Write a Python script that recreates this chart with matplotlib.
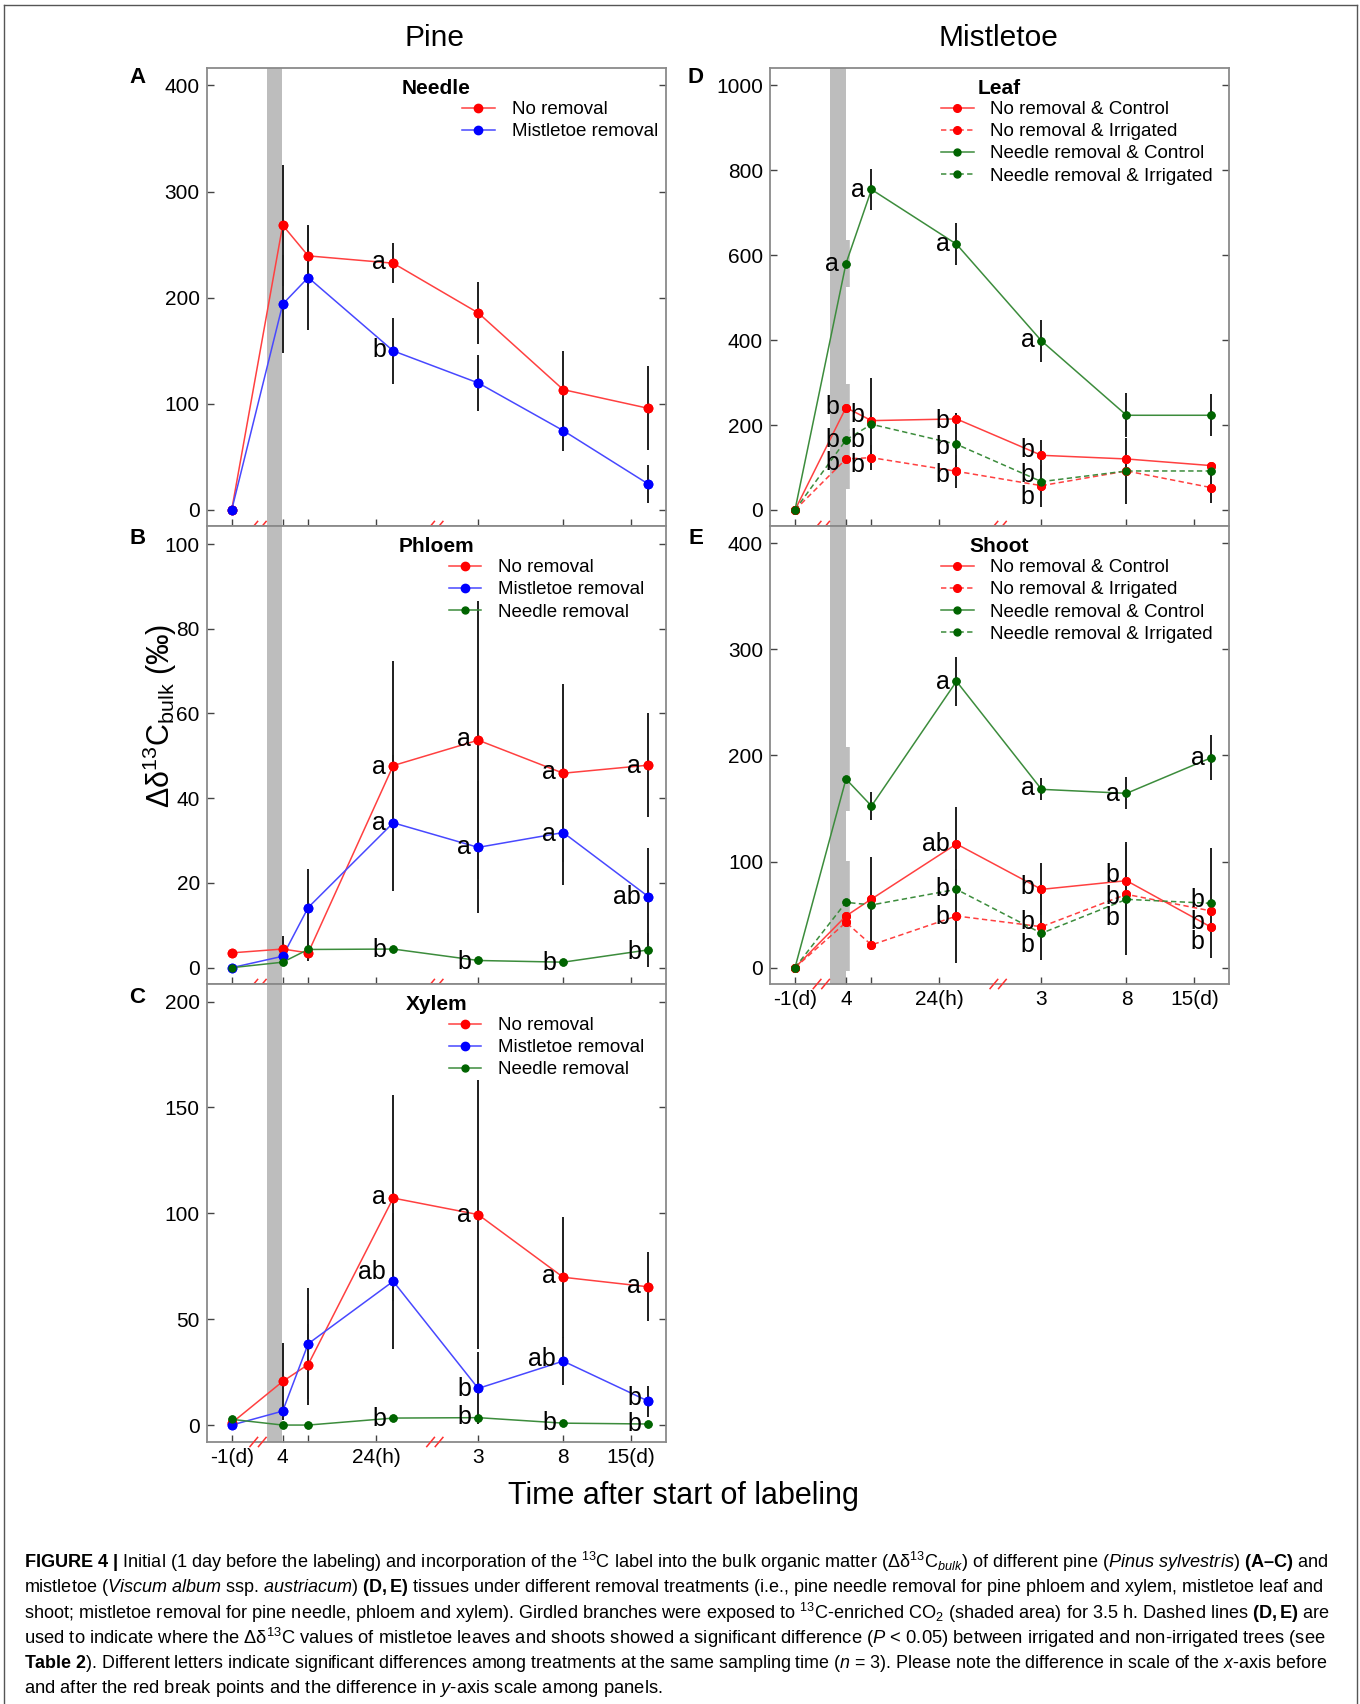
"""Pine / mistletoe 13C labelling figure (panels A-E)."""

import matplotlib

matplotlib.use("Agg")
import matplotlib.pyplot as plt
from matplotlib.lines import Line2D

plt.rcParams["font.family"] = ["Liberation Sans", "DejaVu Sans"]
plt.rcParams["mathtext.fontset"] = "custom"
plt.rcParams["mathtext.rm"] = "Liberation Sans"
plt.rcParams["mathtext.it"] = "Liberation Sans:italic"
plt.rcParams["mathtext.bf"] = "Liberation Sans:bold"
plt.rcParams["mathtext.default"] = "regular"
plt.rcParams["legend.numpoints"] = 1

# ---- data -------------------------------------------------------------
# sampling times on the broken time axis (-1 d, 4 h, ~10 h, ~28 h, 3 d, 8 d, ~17 d)
sample_x = [0.0, 0.6, 0.9, 1.9, 2.9, 3.9, 4.9]
tick_x = [0.0, 0.6, 0.9, 1.7, 2.9, 3.9, 4.7]
tick_labels = ["-1(d)", "4", "", "24(h)", "3", "8", "15(d)"]
break_x = [0.31, 2.39]
labelling_span = (0.41, 0.595)

# A  pine needle
needle_no = [0, 268.3, 239.4, 232.5, 185.7, 113.4, 95.8]
needle_no_se = [0, 57, 29, 19, 29.5, 36, 39.5]
needle_mr = [0, 193.9, 219.0, 149.9, 119.7, 74.8, 24.5]
needle_mr_se = [0, 46, 49, 31, 26, 19, 18]
needle_letters = [(3, 233.5, "a"), (3, 150.8, "b")]

# B  pine phloem
phloem_no = [3.5, 4.4, 3.5, 47.7, 53.7, 45.9, 47.8]
phloem_no_se = [0, 3, 2, 24.6, 32.8, 21, 12.3]
phloem_mr = [0, 2.7, 14.2, 34.2, 28.4, 31.9, 16.8]
phloem_mr_se = [0, 0, 9.1, 16.1, 15.6, 12.4, 11.4]
phloem_nr = [0, 1.3, 4.3, 4.4, 1.7, 1.3, 4.2]
phloem_nr_se = [0, 0, 0, 0, 0, 0, 4]
phloem_letters = [(3, 47.4, "a"), (3, 34.1, "a"), (3, 4.2, "b"),
                  (4, 53.9, "a"), (4, 28.6, "a"), (4, 1.4, "b"),
                  (5, 46.3, "a"), (5, 31.5, "a"), (5, 1.2, "b"),
                  (6, 47.7, "a"), (6, 16.8, "ab"), (6, 3.8, "b")]

# C  pine xylem
xylem_no = [1, 20.6, 28.6, 107.2, 99.4, 69.8, 65.3]
xylem_no_se = [0, 18.2, 19.3, 48.8, 63.6, 28.5, 16.2]
xylem_mr = [0, 6.6, 38.4, 67.9, 17.3, 30.2, 11.3]
xylem_mr_se = [0, 0, 26.2, 32.2, 17, 11.5, 7.3]
xylem_nr = [2.7, 0, 0, 3.3, 3.5, 0.9, 0.5]
xylem_nr_se = [0, 0, 0, 0, 0, 0, 0]
xylem_letters = [(3, 107.7, "a"), (3, 72.2, "ab"), (3, 3.0, "b"),
                 (4, 99.2, "a"), (4, 17.1, "b"), (4, 3.9, "b"),
                 (5, 70.3, "a"), (5, 31.0, "ab"), (5, 1.1, "b"),
                 (6, 65.6, "a"), (6, 12.9, "b"), (6, 0.3, "b")]

# D  mistletoe leaf
leaf_nc = [0, 241.2, 210.5, 214.5, 128.8, 120.2, 104.5]
leaf_nc_se = [0, 56, 100, 13, 36, 0, 0]
leaf_ni = [0, 120.2, 123.3, 91.1, 57.3, 91.9, 52.6]
leaf_ni_se = [0, 70, 30, 38.5, 49.4, 78.5, 37]
leaf_nrc = [0, 580.5, 754.9, 626.1, 398.3, 223.1, 223.1]
leaf_nrc_se = [0, 55, 49, 49.5, 49, 52, 49.5]
leaf_nri = [0, 165.0, 201.9, 154.8, 66.8, 91.9, 91.9]
leaf_nri_se = [0, 0, 0, 73, 0, 0, 0]
leaf_letters = [(1, 579.7, "a"), (1, 243.5, "b"), (1, 165, "b"), (1, 110, "b"),
                (2, 754.1, "a"), (2, 223.9, "b"), (2, 165, "b"), (2, 106, "b"),
                (3, 626.9, "a"), (3, 210.5, "b"), (3, 149.3, "b"), (3, 82.5, "b"),
                (4, 400.6, "a"), (4, 141.4, "b"), (4, 82.5, "b"), (4, 31.4, "b")]

# E  mistletoe shoot
shoot_nc = [0, 48.7, 64.7, 116.6, 73.8, 82.0, 38.0]
shoot_nc_se = [0, 52, 40, 34.5, 24.5, 36.8, 0]
shoot_ni = [0, 42.7, 21.4, 48.7, 38.6, 69.1, 53.4]
shoot_ni_se = [0, 0, 5, 44.6, 31.4, 0, 0]
shoot_nrc = [0, 177.8, 152.4, 269.9, 168.1, 164.3, 198.0]
shoot_nrc_se = [0, 30, 13.4, 23, 10.5, 15, 21]
shoot_nri = [0, 61.6, 59.1, 73.8, 32.4, 64.4, 60.6]
shoot_nri_se = [0, 0, 0, 0, 0, 52.5, 51.9]
shoot_letters = [(3, 269.6, "a"), (3, 116.6, "ab"), (3, 73.8, "b"), (3, 48.1, "b"),
                 (4, 169.1, "a"), (4, 76.4, "b"), (4, 43.4, "b"), (4, 21.4, "b"),
                 (5, 163.7, "a"), (5, 87.4, "b"), (5, 66.9, "b"), (5, 46.5, "b"),
                 (6, 197.3, "a"), (6, 63.8, "b"), (6, 43.4, "b"), (6, 24.5, "b")]

caption = [
    r"$\mathbf{FIGURE\ 4\ |}$ Initial (1 day before the labeling) and incorporation of the $^{13}$C label into the bulk organic matter (Δδ$^{13}$C$_{\mathit{bulk}}$) of different pine ($\mathit{Pinus\ sylvestris}$) $\mathbf{(A–C)}$ and",
    r"mistletoe ($\mathit{Viscum\ album}$ ssp. $\mathit{austriacum}$) $\mathbf{(D,E)}$ tissues under different removal treatments (i.e., pine needle removal for pine phloem and xylem, mistletoe leaf and",
    r"shoot; mistletoe removal for pine needle, phloem and xylem). Girdled branches were exposed to $^{13}$C-enriched CO$_2$ (shaded area) for 3.5 h. Dashed lines $\mathbf{(D,E)}$ are",
    r"used to indicate where the Δδ$^{13}$C values of mistletoe leaves and shoots showed a significant difference ($\mathit{P}$ < 0.05) between irrigated and non-irrigated trees (see",
    r"$\mathbf{Table\ 2}$). Different letters indicate significant differences among treatments at the same sampling time ($\mathit{n}$ = 3). Please note the difference in scale of the $\mathit{x}$-axis before",
    r"and after the red break points and the difference in $\mathit{y}$-axis scale among panels.",
]

# ---- styles -----------------------------------------------------------
RED, BLUE, GREEN = "#ff0000", "#0000ff", "#006400"
RED_LINE, BLUE_LINE, GREEN_LINE = "#ff4040", "#4848ff", "#3c8c3c"
BAND = "#bdbdbd"
SPINE = "#8a8a8a"
DASH = (0, (3.5, 2.2))

W, H = 1360, 1704
fig = plt.figure(figsize=(W / 100, H / 100), dpi=100)


def make_axes(left, top, width=459, height=458):
    return fig.add_axes([left / W, 1 - (top + height) / H, width / W, height / H])


def style_axes(ax, ylim, yticks, show_xlabels=False):
    ax.set_xlim(-0.294, 5.106)
    ax.set_ylim(*ylim)
    ax.set_yticks(yticks)
    ax.set_xticks(tick_x)
    ax.set_xticklabels(tick_labels if show_xlabels else [""] * len(tick_x))
    ax.tick_params(axis="y", direction="in", right=True, length=5, width=1,
                   color="#444444", labelsize=15, pad=5)
    ax.tick_params(axis="x", direction="in", length=5, width=1,
                   color="#444444", labelsize=15, pad=4)
    for sp in ax.spines.values():
        sp.set_color(SPINE)
        sp.set_linewidth(1.3)
    ax.axvspan(*labelling_span, color=BAND, lw=0, zorder=0.5)
    tr = ax.get_xaxis_transform()
    for bx in break_x:
        for off in (-0.05, 0.05):
            ax.plot([bx + off - 0.045, bx + off + 0.045], [-0.010, 0.010],
                    color="#ff3030", lw=1.1, transform=tr, clip_on=False, zorder=10)


def draw_series(ax, y, se, color, line_color, label, ms, ls="-", bar_gray_first=False):
    ax.plot(sample_x, y, ls=ls, color=line_color, lw=1.1, marker="o", ms=ms,
            mfc=color, mec=color, label=label, zorder=2)
    for i, (x, v, e) in enumerate(zip(sample_x, y, se)):
        if e <= 0:
            continue
        if bar_gray_first and i == 1:
            ax.vlines(x + 0.01, v - e, v + e, color=BAND, lw=4, zorder=0.6)
        else:
            ax.vlines(x, v - e, v + e, color="#1e1e1e", lw=1.4, zorder=3)
    ax.plot(sample_x, y, ls="none", marker="o", ms=ms, mfc=color, mec=color, zorder=4)


def add_letters(ax, letters):
    for i, v, s in letters:
        ax.annotate(s, (sample_x[i], v), xytext=(-5, 0), textcoords="offset points",
                    ha="right", va="center", fontsize=18, zorder=5)


def add_title_legend(ax, title, legend_x):
    ax.text(0.5, 1 - 20.5 / 458, title, transform=ax.transAxes, ha="center",
            va="center", fontsize=15, fontweight="bold")
    ax.legend(loc="upper left", bbox_to_anchor=(legend_x, 1 - 33 / 458),
              frameon=False, fontsize=13.5, handlelength=1.75, handletextpad=0.9,
              labelspacing=0.27, borderpad=0, borderaxespad=0)


# ---- panels -----------------------------------------------------------
ax_a = make_axes(206.7, 68)
style_axes(ax_a, (-15.1, 416.4), range(0, 401, 100))
draw_series(ax_a, needle_no, needle_no_se, RED, RED_LINE, "No removal", 6)
draw_series(ax_a, needle_mr, needle_mr_se, BLUE, BLUE_LINE, "Mistletoe removal", 6)
add_letters(ax_a, needle_letters)
add_title_legend(ax_a, "Needle", 0.556)

ax_b = make_axes(206.7, 526)
style_axes(ax_b, (-3.85, 104.25), range(0, 101, 20))
draw_series(ax_b, phloem_no, phloem_no_se, RED, RED_LINE, "No removal", 6)
draw_series(ax_b, phloem_mr, phloem_mr_se, BLUE, BLUE_LINE, "Mistletoe removal", 6)
draw_series(ax_b, phloem_nr, phloem_nr_se, GREEN, GREEN_LINE, "Needle removal", 5)
add_letters(ax_b, phloem_letters)
add_title_legend(ax_b, "Phloem", 0.527)

ax_c = make_axes(206.7, 984)
style_axes(ax_c, (-8.0, 208.3), range(0, 201, 50), show_xlabels=True)
draw_series(ax_c, xylem_no, xylem_no_se, RED, RED_LINE, "No removal", 6)
draw_series(ax_c, xylem_mr, xylem_mr_se, BLUE, BLUE_LINE, "Mistletoe removal", 6)
draw_series(ax_c, xylem_nr, xylem_nr_se, GREEN, GREEN_LINE, "Needle removal", 5)
add_letters(ax_c, xylem_letters)
add_title_legend(ax_c, "Xylem", 0.527)

ax_d = make_axes(770, 68)
style_axes(ax_d, (-37.7, 1041), range(0, 1001, 200))
draw_series(ax_d, leaf_nc, leaf_nc_se, RED, RED_LINE, "No removal & Control", 5.5, bar_gray_first=True)
draw_series(ax_d, leaf_ni, leaf_ni_se, RED, RED_LINE, "No removal & Irrigated", 5.5, ls=DASH, bar_gray_first=True)
draw_series(ax_d, leaf_nrc, leaf_nrc_se, GREEN, GREEN_LINE, "Needle removal & Control", 5, bar_gray_first=True)
draw_series(ax_d, leaf_nri, leaf_nri_se, GREEN, GREEN_LINE, "Needle removal & Irrigated", 5, ls=DASH, bar_gray_first=True)
add_letters(ax_d, leaf_letters)
add_title_legend(ax_d, "Leaf", 0.372)

ax_e = make_axes(770, 526)
style_axes(ax_e, (-15.4, 416.3), range(0, 401, 100), show_xlabels=True)
draw_series(ax_e, shoot_nc, shoot_nc_se, RED, RED_LINE, "No removal & Control", 5.5, bar_gray_first=True)
draw_series(ax_e, shoot_ni, shoot_ni_se, RED, RED_LINE, "No removal & Irrigated", 5.5, ls=DASH, bar_gray_first=True)
draw_series(ax_e, shoot_nrc, shoot_nrc_se, GREEN, GREEN_LINE, "Needle removal & Control", 5, bar_gray_first=True)
draw_series(ax_e, shoot_nri, shoot_nri_se, GREEN, GREEN_LINE, "Needle removal & Irrigated", 5, ls=DASH, bar_gray_first=True)
add_letters(ax_e, shoot_letters)
add_title_legend(ax_e, "Shoot", 0.372)

# panel letters, column titles, axis titles
for lab, x, y in [("A", 137.5, 77.5), ("B", 137.5, 538), ("C", 137.5, 998),
                  ("D", 695.5, 77.5), ("E", 695.5, 538)]:
    fig.text(x / W, 1 - y / H, lab, ha="center", va="center", fontsize=16, fontweight="bold")
fig.text(435 / W, 1 - 38 / H, "Pine", ha="center", va="center", fontsize=21.5)
fig.text(998 / W, 1 - 38 / H, "Mistletoe", ha="center", va="center", fontsize=21.5)
fig.text(160 / W, 1 - 716 / H, "Δδ$^{13}$C$_{bulk}$ (‰)", rotation=90,
         ha="center", va="center", fontsize=22)
fig.text(683 / W, 1 - 1496 / H, "Time after start of labeling", ha="center",
         va="center", fontsize=22)

# caption, justified to the same width except for the last line
renderer = fig.canvas.get_renderer()
for k, line in enumerate(caption):
    t = fig.text(24 / W, 1 - (1562 + 25.3 * k) / H, line, ha="left", va="center", fontsize=13.2)
    if k < len(caption) - 1:
        w = t.get_window_extent(renderer).width
        t.set_fontsize(13.2 * 1306 / w)

# outer frame (top, left, right)
for xs, ys in [((3.5, 1356.5), (5, 5)), ((3.5, 3.5), (5, H)), ((1356.5, 1356.5), (5, H))]:
    fig.add_artist(Line2D([x / W for x in xs], [1 - y / H for y in ys],
                          transform=fig.transFigure, color="#555555", lw=1))

fig.savefig("out.png", dpi=100)
